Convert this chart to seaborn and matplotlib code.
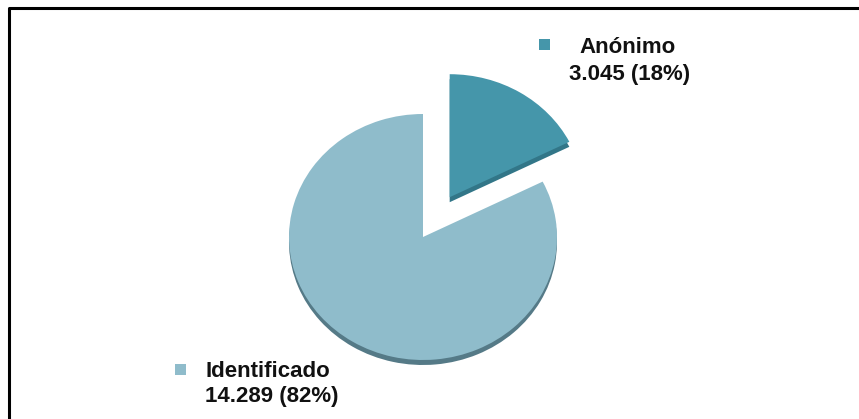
import matplotlib
matplotlib.use("Agg")
import matplotlib.pyplot as plt
from matplotlib.patches import Rectangle
import seaborn as sns

# Complaints by type of submission
categories = ["Anónimo", "Identificado"]
counts = [3045, 14289]

top_colors = ["#4596aa", "#8fbccb"]
side_colors = ["#327688", "#557a87"]

sns.set_theme(style="white")
plt.rcParams["font.family"] = ["Liberation Sans", "DejaVu Sans"]

W, H = 859, 419
fig = plt.figure(figsize=(W / 100, H / 100), dpi=100)
ax = fig.add_axes([0, 0, 1, 1])

# the pie is viewed slightly from above: squash it vertically
rx, ry = 134.0, 123.0
k = ry / rx


def to_data(px, py):
    return px, (H - py) / k


cx, cy = to_data(423, 237)
explode = [0.38 * rx, 0.0]
depth = 5 / k

# side of the disc, drawn first and shifted down
ax.pie(counts, colors=side_colors, startangle=90, counterclock=False,
       radius=rx, center=(cx, cy - depth), explode=explode,
       wedgeprops=dict(linewidth=0))
# top face
ax.pie(counts, colors=top_colors, startangle=90, counterclock=False,
       radius=rx, center=(cx, cy), explode=explode,
       wedgeprops=dict(linewidth=0))

ax.set_xlim(0, W)
ax.set_ylim(0, H / k)
ax.set_aspect("auto")
ax.axis("off")

total = sum(counts)


def fmt(v):
    return f"{v:,}".replace(",", ".") + f" ({round(100 * v / total)}%)"


# labels with a colour key
label_layout = {
    "Anónimo": dict(square=(544.5, 44.5), name=(628, 53), value=(629.5, 80)),
    "Identificado": dict(square=(180, 369), name=(268, 377), value=(271.5, 402)),
}
for cat, val, col in zip(categories, counts, top_colors):
    lay = label_layout[cat]
    sx, sy = to_data(*lay["square"])
    ax.add_patch(Rectangle((sx - 5.5, sy - 5.5 / k), 11, 11 / k,
                           facecolor=col, edgecolor="none", clip_on=False))
    nx, ny = to_data(*lay["name"])
    ax.text(nx, ny, cat, ha="center", va="baseline", fontsize=16,
            fontweight="bold", color="#111111")
    vx, vy = to_data(*lay["value"])
    ax.text(vx, vy, fmt(val), ha="center", va="baseline", fontsize=16,
            fontweight="bold", color="#111111")

# frame line along the top and left
bx0, by0 = to_data(8.5, 7.5)
_, by1 = to_data(8.5, H + 10)
ax.plot([bx0, bx0, W + 10], [by1, by0, by0], color="black", lw=2.2,
        clip_on=False, solid_capstyle="projecting")

fig.savefig("out.png", dpi=100, facecolor="white")
